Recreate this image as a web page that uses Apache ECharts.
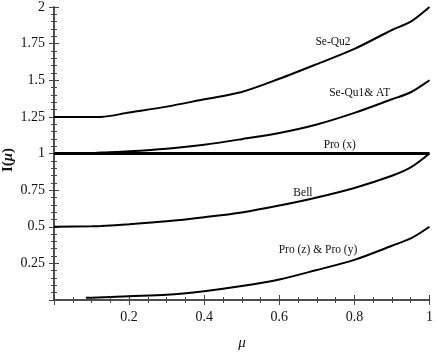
<!DOCTYPE html>
<html>
<head>
<meta charset="utf-8">
<script src="https://cdn.jsdelivr.net/npm/echarts@6/dist/echarts.min.js"></script>
<style>
  html, body { margin: 0; padding: 0; background: #fff; }
  #main { width: 436px; height: 354px; }
</style>
</head>
<body>
<div id="main"></div>
<script>
// values
const mu      = [0, 0.1, 0.125, 0.2, 0.3, 0.4, 0.5, 0.6, 0.7, 0.8, 0.9, 0.95, 1];
const seQu2   = [1.25, 1.25, 1.25, 1.28, 1.32, 1.37, 1.42, 1.51, 1.61, 1.714, 1.843, 1.90, 2.0];
const seQu1AT = [1.0, 1.003, 1.006, 1.015, 1.033, 1.06, 1.098, 1.14, 1.198, 1.277, 1.37, 1.418, 1.5];
const bell    = [0.5, 0.503, 0.505, 0.517, 0.537, 0.565, 0.598, 0.645, 0.70, 0.765, 0.848, 0.905, 1.0];
const muProZY = [0.085, 0.1, 0.2, 0.3, 0.4, 0.5, 0.6, 0.7, 0.8, 0.9, 0.95, 1];
const proZY   = [0.015, 0.016, 0.026, 0.035, 0.06, 0.095, 0.14, 0.205, 0.274, 0.37, 0.42, 0.5];
const muProX  = [0, 1];
const proX    = [1, 1];

const serif = "'Liberation Serif', 'DejaVu Serif', serif";

function pairs(xs, ys) {
  return xs.map((x, i) => [x, ys[i]]);
}

const chart = echarts.init(document.getElementById('main'));

const axisLine = { show: true, lineStyle: { color: '#444', width: 1.5 } };
const tick = { show: true, inside: true, length: 5, lineStyle: { color: '#444', width: 1 } };
const hideZero = v => (v === 0 ? '' : String(+v.toFixed(2)));

function xAx(pos, labels) {
  return {
    type: 'value', position: pos, min: 0, max: 1, interval: 0.2,
    axisLine: axisLine, axisTick: tick,
    minorTick: { show: true, splitNumber: 4, length: 3, lineStyle: { color: '#444' } },
    axisLabel: { show: labels, formatter: hideZero, margin: 10, color: '#111', fontFamily: serif, fontSize: 14 },
    splitLine: { show: false }
  };
}
function yAx(pos, labels) {
  return {
    type: 'value', position: pos, min: 0, max: 2, interval: 0.25,
    axisLine: axisLine, axisTick: tick,
    minorTick: { show: true, splitNumber: 5, length: 3, lineStyle: { color: '#444' } },
    axisLabel: { show: labels, formatter: hideZero, margin: 9, color: '#111', fontFamily: serif, fontSize: 14 },
    splitLine: { show: false }
  };
}

function line(name, data, w) {
  return {
    name: name, type: 'line', data: data, showSymbol: false, symbol: 'none',
    smooth: 0.3,
    xAxisIndex: 0, yAxisIndex: 0, silent: true,
    lineStyle: { color: '#000', width: w }
  };
}

chart.setOption({
  animation: false,
  grid: { left: 54, right: 5, top: 7, bottom: 54 },
  xAxis: [xAx('bottom', true), xAx('top', false)],
  yAxis: [yAx('left', true), yAx('right', false)],
  series: [
    line('Se-Qu2', pairs(mu, seQu2), 2),
    line('Se-Qu1& AT', pairs(mu, seQu1AT), 2),
    line('Pro (x)', pairs(muProX, proX), 3),
    line('Bell', pairs(mu, bell), 2),
    line('Pro (z) & Pro (y)', pairs(muProZY, proZY), 2)
  ]
});

// curve labels, anchored in data coordinates
const notes = [
  ['Se-Qu2', 0.743, 1.76],
  ['Se-Qu1& AT', 0.814, 1.413],
  ['Pro (x)', 0.761, 1.058],
  ['Bell', 0.663, 0.73],
  ['Pro (z) & Pro (y)', 0.703, 0.341]
];
const graphics = notes.map(n => {
  const p = chart.convertToPixel({ xAxisIndex: 0, yAxisIndex: 0 }, [n[1], n[2]]);
  return {
    type: 'text', x: p[0], y: p[1], silent: true,
    style: { text: n[0], fill: '#111', font: '11.5px ' + serif, align: 'center', verticalAlign: 'middle' }
  };
});

graphics.push({
  type: 'text', x: 242, y: 343, silent: true,
  style: { text: 'μ', fill: '#111', font: 'italic 15px ' + serif, align: 'center', verticalAlign: 'middle' }
});
graphics.push({
  type: 'text', x: 8, y: 160, rotation: Math.PI / 2, silent: true,
  style: {
    text: '{b|I}{n|(}{i|μ}{n|)}', align: 'center', verticalAlign: 'middle',
    rich: {
      b: { fontFamily: serif, fontWeight: 'bold', fontSize: 15, fill: '#111' },
      n: { fontFamily: serif, fontWeight: 'bold', fontSize: 15, fill: '#111' },
      i: { fontFamily: serif, fontStyle: 'italic', fontWeight: 'bold', fontSize: 15, fill: '#111' }
    }
  }
});

chart.setOption({ graphic: graphics });
</script>
</body>
</html>
